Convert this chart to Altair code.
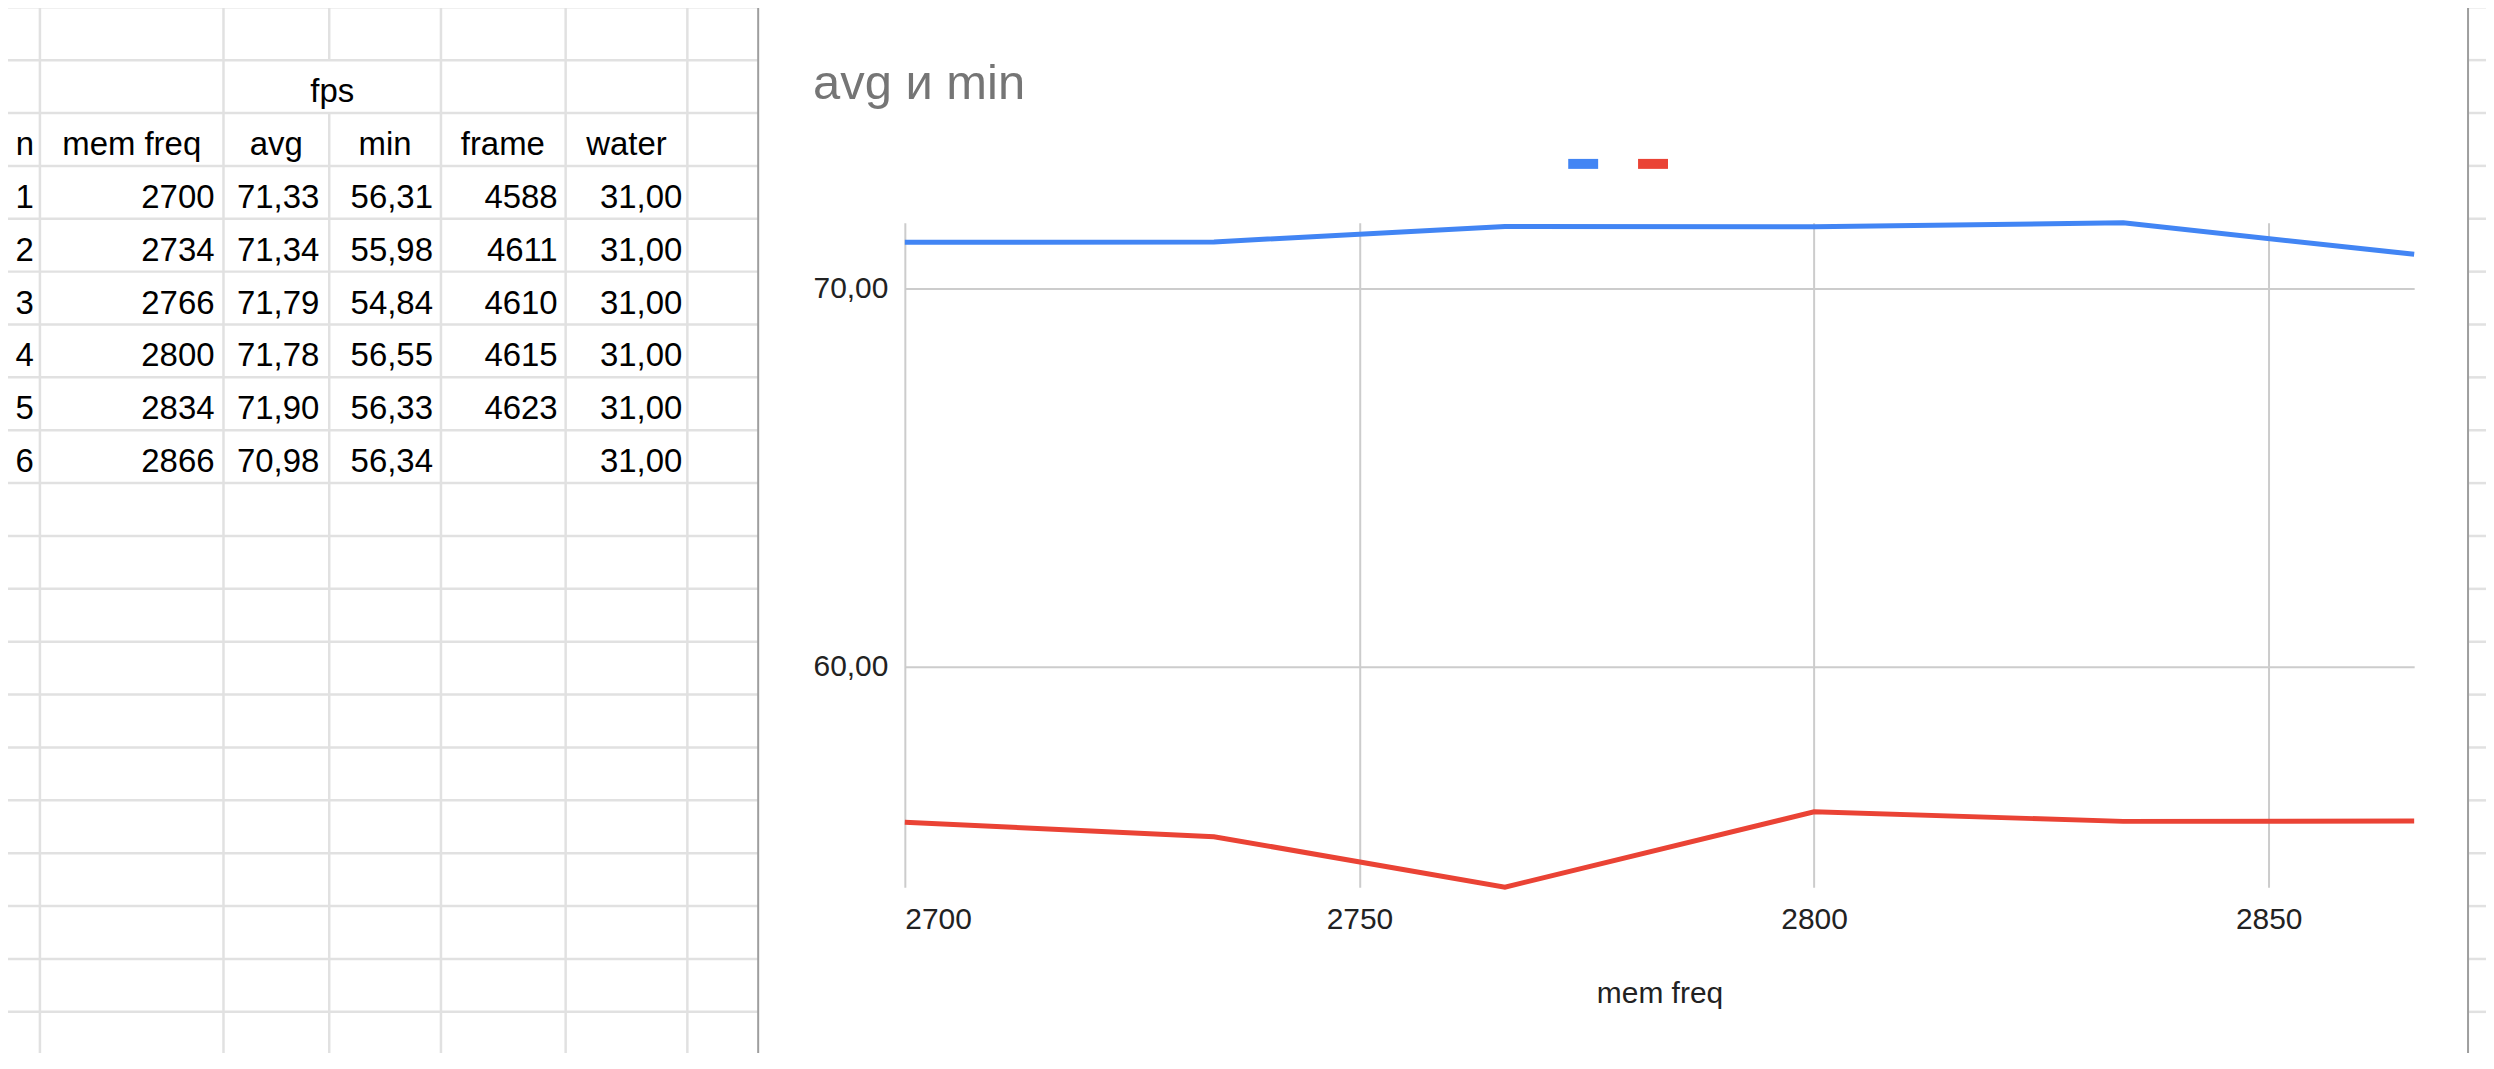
import altair as alt
import pandas as pd

# ---------------- data ----------------
ROW_N = [1, 2, 3, 4, 5, 6]
MEM_FREQ = [2700, 2734, 2766, 2800, 2834, 2866]
AVG = [71.33, 71.34, 71.79, 71.78, 71.90, 70.98]
MIN = [56.31, 55.98, 54.84, 56.55, 56.33, 56.34]
FRAME = [4588, 4611, 4610, 4615, 4623, None]
WATER = [31.00, 31.00, 31.00, 31.00, 31.00, 31.00]
HEADERS = ["n", "mem freq", "avg", "min", "frame", "water"]
GROUP_HEADER = "fps"
SERIES = ["avg", "min"]
COLORS = ["#4285F4", "#EA4335"]
X_TICKS = [2700, 2750, 2800, 2850]
Y_TICKS = [60, 70]
TITLE = "avg и min"
X_TITLE = "mem freq"

# ---------------- layout (page pixels) ----------------
FONT = "Liberation Sans"
PAGE_W, PAGE_H = 2494, 1069
MARGIN = 8
CANVAS_W, CANVAS_H = 2484, 1045
PLOT_X0, PLOT_Y0 = 907, 222
PLOT_W, PLOT_H = 1513, 666
COL_LINES = [40, 224, 330, 442, 567, 689]
HEADER_CENTERS = [25, 132, 277, 386, 504, 628]
RIGHT_EDGES = [34, 215, 320, 434, 559, 684]
ROW0, ROW_H, N_ROWS = 6, 53, 21
BOX = (760, 4, 2474, 1062)


def fmt(v):
    return f"{v:.2f}".replace(".", ",")


# sheet grid lines
vl = []
for x in COL_LINES:
    if x == 330:  # merged "fps" cell
        vl.append({"x": x, "y": 0, "y2": ROW0 + ROW_H})
        vl.append({"x": x, "y": ROW0 + 2 * ROW_H, "y2": PAGE_H})
    else:
        vl.append({"x": x, "y": 0, "y2": PAGE_H})
df_v = pd.DataFrame(vl)
hl = []
for k in range(N_ROWS):
    y = ROW0 + ROW_H * k
    hl.append({"y": y, "x": 0, "x2": BOX[0]})
    hl.append({"y": y, "x": BOX[2], "x2": PAGE_W})
df_h = pd.DataFrame(hl)

# sheet texts
ctr = [{"x": 333, "y": ROW0 + 2 * ROW_H - 11, "label": GROUP_HEADER}]
for h, cx in zip(HEADERS, HEADER_CENTERS):
    ctr.append({"x": cx, "y": ROW0 + 3 * ROW_H - 11, "label": h})
df_c = pd.DataFrame(ctr)

rt = []
for i in range(len(ROW_N)):
    yb = ROW0 + (4 + i) * ROW_H - 11
    cells = [str(ROW_N[i]), str(MEM_FREQ[i]), fmt(AVG[i]), fmt(MIN[i]),
             "" if FRAME[i] is None else str(FRAME[i]), fmt(WATER[i])]
    for c, xr in zip(cells, RIGHT_EDGES):
        if c:
            rt.append({"x": xr, "y": yb, "label": c})
df_r = pd.DataFrame(rt)

df_box = pd.DataFrame([{"x": BOX[0], "x2": BOX[2], "y": BOX[1], "y2": BOX[3]}])

SX = alt.Scale(domain=[0, PAGE_W], range=[-PLOT_X0, PAGE_W - PLOT_X0])
SY = alt.Scale(domain=[0, PAGE_H], range=[-PLOT_Y0, PAGE_H - PLOT_Y0])
GRID = "#e1e1e1"

v_rules = alt.Chart(df_v).mark_rule(color=GRID, strokeWidth=2.5).encode(
    x=alt.X("x:Q", scale=SX, axis=None),
    y=alt.Y("y:Q", scale=SY, axis=None),
    y2="y2:Q",
)
h_rules = alt.Chart(df_h).mark_rule(color=GRID, strokeWidth=2.5).encode(
    x=alt.X("x:Q", scale=SX, axis=None),
    x2="x2:Q",
    y=alt.Y("y:Q", scale=SY, axis=None),
)
box = alt.Chart(df_box).mark_rect(fillOpacity=0, stroke="#9e9e9e", strokeWidth=2).encode(
    x=alt.X("x:Q", scale=SX, axis=None),
    x2="x2:Q",
    y=alt.Y("y:Q", scale=SY, axis=None),
    y2="y2:Q",
)
txt_c = alt.Chart(df_c).mark_text(align="center", baseline="alphabetic", fontSize=33,
                                  font=FONT, color="#000000").encode(
    x=alt.X("x:Q", scale=SX, axis=None),
    y=alt.Y("y:Q", scale=SY, axis=None),
    text="label:N",
)
txt_r = alt.Chart(df_r).mark_text(align="right", baseline="alphabetic", fontSize=33,
                                  font=FONT, color="#000000").encode(
    x=alt.X("x:Q", scale=SX, axis=None),
    y=alt.Y("y:Q", scale=SY, axis=None),
    text="label:N",
)
sheet = alt.layer(v_rules, h_rules, box, txt_c, txt_r)

# ---------------- chart ----------------
rows = []
for f, a, m in zip(MEM_FREQ, AVG, MIN):
    rows.append({"freq": f, "value": a, "series": SERIES[0]})
    rows.append({"freq": f, "value": m, "series": SERIES[1]})
df_lines = pd.DataFrame(rows)

y_dom = [min(MIN), max(AVG)]

lines = alt.Chart(df_lines).mark_line(strokeWidth=5).encode(
    x=alt.X("freq:Q",
            scale=alt.Scale(domain=[MEM_FREQ[0], MEM_FREQ[-1]], nice=False, zero=False),
            axis=alt.Axis(values=X_TICKS, format="d", ticks=False, tickSize=0, domain=False,
                          labelPadding=17, labelFontSize=30, labelFont=FONT, labelColor="#222222",
                          grid=True, gridColor="#cccccc", gridWidth=2,
                          title=X_TITLE, titleFont=FONT, titleFontSize=30, titleFontWeight="normal",
                          titleColor="#222222", titleY=116, titleBaseline="alphabetic")),
    y=alt.Y("value:Q",
            scale=alt.Scale(type="log", domain=y_dom, nice=False, zero=False),
            axis=alt.Axis(values=Y_TICKS,
                          labelExpr="replace(format(datum.value, '.2f'), '.', ',')",
                          ticks=False, tickSize=0, domain=False, labelPadding=17,
                          labelFontSize=30, labelFont=FONT, labelColor="#222222",
                          grid=True, gridColor="#cccccc", gridWidth=2, title=None)),
    color=alt.Color("series:N", scale=alt.Scale(domain=SERIES, range=COLORS),
                    legend=alt.Legend(orient="none", legendX=660, legendY=-79,
                                      direction="horizontal", title=None,
                                      symbolType="M-1,0H1", symbolSize=900,
                                      symbolStrokeWidth=10, labelExpr="''",
                                      labelFontSize=1, labelOffset=0, columnPadding=0,
                                      padding=0)),
)

title_df = pd.DataFrame({"t": [TITLE]})
title_txt = alt.Chart(title_df).mark_text(align="left", baseline="alphabetic", fontSize=49,
                                          font=FONT, color="#757575").encode(
    x=alt.value(815 - PLOT_X0),
    y=alt.value(98 - PLOT_Y0),
    text="t:N",
)

chart_part = alt.layer(lines, title_txt)

chart = alt.layer(sheet, chart_part).resolve_scale(
    x="independent", y="independent"
).properties(
    width=PLOT_W,
    height=PLOT_H,
    autosize=alt.AutoSizeParams(type="none"),
    padding={"left": PLOT_X0 - MARGIN, "top": PLOT_Y0 - MARGIN,
             "right": CANVAS_W - (PLOT_X0 - MARGIN) - PLOT_W,
             "bottom": CANVAS_H - (PLOT_Y0 - MARGIN) - PLOT_H},
    background="white",
).configure_view(stroke=None)

chart.save("out.html", embed_options={"renderer": "svg", "actions": False})
